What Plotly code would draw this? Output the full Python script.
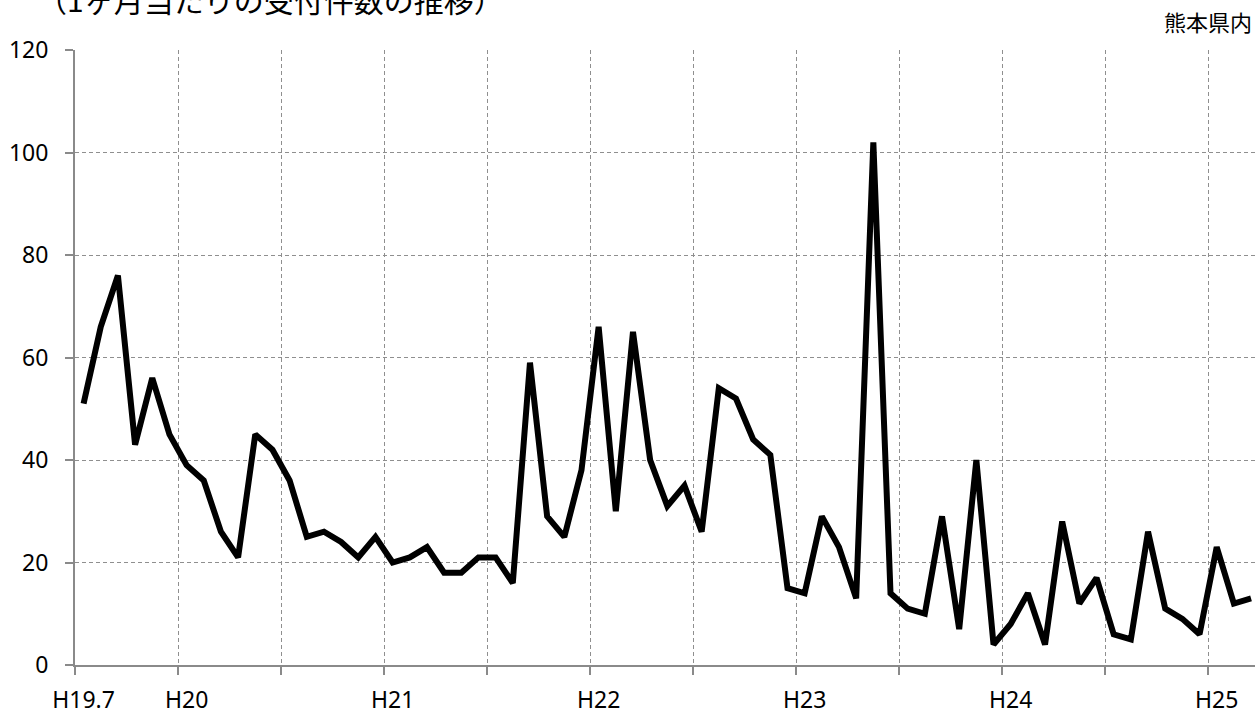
import plotly.graph_objects as go

# Monthly counts, H19.7 (Jul 2007) to H25.3 (Mar 2013)
values = [51, 66, 76, 43, 56, 45, 39, 36, 26, 21, 45, 42,
          36, 25, 26, 24, 21, 25, 20, 21, 23, 18, 18, 21,
          21, 16, 59, 29, 25, 38, 66, 30, 65, 40, 31, 35,
          26, 54, 52, 44, 41, 15, 14, 29, 23, 13, 102, 14,
          11, 10, 29, 7, 40, 4, 8, 14, 4, 28, 12, 17,
          6, 5, 26, 11, 9, 6, 23, 12, 13]
months = list(range(len(values)))

label_positions = [0, 6, 18, 30, 42, 54, 66]
label_texts = ["H19.7", "H20", "H21", "H22", "H23", "H24", "H25"]
y_ticks = [0, 20, 40, 60, 80, 100, 120]

title_text = "（1ヶ月当たりの受付件数の推移）"
region_text = "熊本県内"

# half-year boundaries (between categories)
boundaries = [m - 0.5 for m in range(0, len(values) + 6, 6)]

fig = go.Figure()
fig.add_trace(go.Scatter(
    x=months, y=values, mode="lines",
    line=dict(color="#000000", width=6),
    hoverinfo="skip", showlegend=False,
))

grid_col = "#8f8f8f"
axis_col = "#8a8a8a"
tick_font = dict(family="Noto Sans, Open Sans, sans-serif", size=23, color="#000000")

fig.update_layout(
    width=1255, height=710,
    margin=dict(l=75, r=0, t=50, b=45, autoexpand=False),
    paper_bgcolor="white", plot_bgcolor="white",
    xaxis=dict(
        range=[-0.5, 68.23], automargin=False,
        tickmode="array", tickvals=label_positions, ticktext=label_texts,
        showgrid=False, ticks="", zeroline=False,
        showline=True, linecolor=axis_col, linewidth=2,
        tickfont=tick_font, ticklabelstandoff=13,
        minor=dict(tickmode="array", tickvals=boundaries,
                   showgrid=True, gridcolor=grid_col, gridwidth=1,
                   griddash="4px,3px",
                   ticks="outside", ticklen=8, tickcolor=axis_col, tickwidth=2),
    ),
    yaxis=dict(
        range=[0, 120], automargin=False, tickmode="array", tickvals=y_ticks,
        showgrid=True, gridcolor=grid_col, gridwidth=1, griddash="4px,3px",
        zeroline=False, showline=True, linecolor=axis_col, linewidth=2,
        ticks="outside", ticklen=8, tickcolor=axis_col, tickwidth=2,
        tickfont=tick_font, ticklabelstandoff=12,
    ),
    annotations=[
        dict(text=title_text, xref="paper", yref="paper",
             x=(35 - 75) / 1180, y=1 + (50 + 1) / 615,
             xanchor="left", yanchor="middle", showarrow=False,
             font=dict(family="Noto Sans CJK JP", size=30, color="#000000")),
        dict(text=region_text, xref="paper", yref="paper",
             x=(1254 - 75) / 1180, y=1 + (50 - 21) / 615,
             xanchor="right", yanchor="middle", showarrow=False,
             font=dict(family="Noto Sans CJK JP", size=22, color="#000000")),
    ],
)

fig.write_html(
    "out.html",
    config={"displayModeBar": False},
    post_script="document.body.style.margin='0';document.body.style.overflow='hidden';",
)
